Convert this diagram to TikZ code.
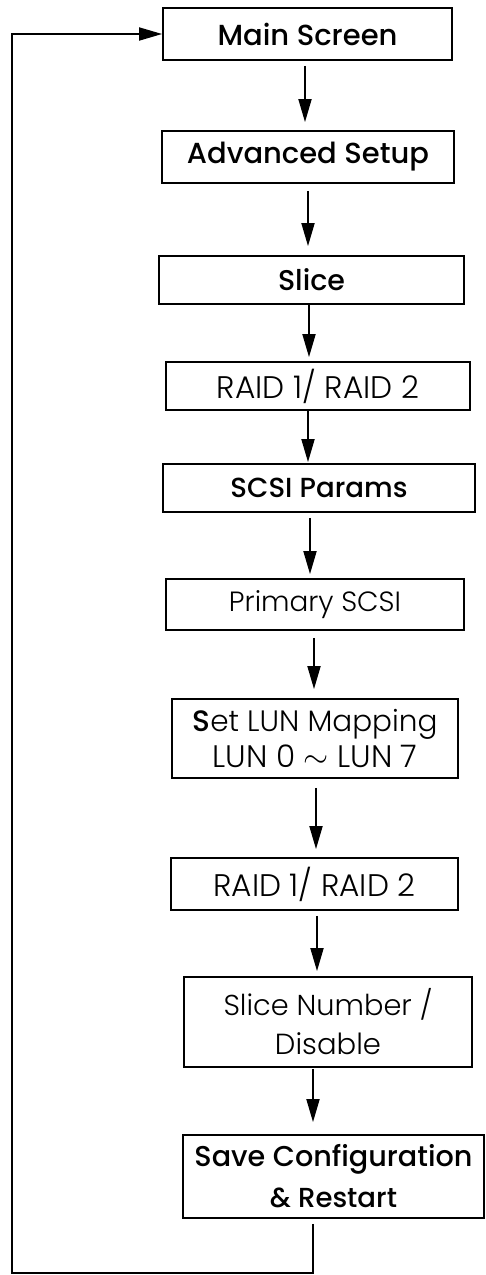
\documentclass[tikz,border=0pt]{standalone}
\usepackage{fontspec}
\setmainfont{Poppins}
\newfontfamily\lt{Poppins Light}
\newfontfamily\md{Poppins Medium}
\usetikzlibrary{arrows.meta}
\newcommand\tw[2]{\resizebox{#1pt}{!}{#2}}
\tikzset{
  box/.style={draw, line width=1.8pt, inner sep=0pt, align=center},
  arr/.style={line width=1.8pt, -{Triangle[length=23pt,width=13pt]}},
}
\newcommand\flow[5]{\draw[arr, shorten <=#4pt, shorten >=#5pt] ([xshift=#3pt]#1.south) -- ([xshift=#3pt]#1.south |- #2.north);}
\begin{document}
\begin{tikzpicture}[x=1pt, y=-1pt]
\useasboundingbox (0,0) rectangle (485,1275);
\node[box, minimum width=289pt, minimum height=52pt, font=\fontsize{20}{30}\selectfont] (n1) at (307.5,34) {\tw{180}{\md Main Screen}};
\node[box, minimum width=292pt, minimum height=52pt, font=\fontsize{20}{30}\selectfont] (n2) at (308,157) {\tw{242}{\md Advanced Setup}};
\node[box, minimum width=305pt, minimum height=48pt, font=\fontsize{20}{30}\selectfont] (n3) at (311.5,280) {\tw{67}{\md Slice}};
\node[box, minimum width=304pt, minimum height=48pt, font=\fontsize{20}{30}\selectfont] (n4) at (318,386) {\tw{202}{\lt RAID 1/ RAID 2}};
\node[box, minimum width=312pt, minimum height=48pt, font=\fontsize{20}{30}\selectfont] (n5) at (319,488) {\tw{177}{\md SCSI Params}};
\node[box, minimum width=298pt, minimum height=51pt, font=\fontsize{20}{30}\selectfont] (n6) at (315,604.5) {\tw{172}{\lt Primary SCSI}};
\node[box, minimum width=286pt, minimum height=79pt, font=\fontsize{20}{36}\selectfont] (n7) at (315,738.5) {\tw{245}{{\md S}\lt et LUN Mapping}\\\tw{205}{\lt LUN 0 $\sim$ LUN 7}};
\node[box, minimum width=287pt, minimum height=52pt, font=\fontsize{20}{30}\selectfont] (n8) at (314.5,884) {\tw{202}{\lt RAID 1/ RAID 2}};
\node[box, minimum width=288pt, minimum height=90pt, font=\fontsize{20}{39}\selectfont] (n9) at (328,1022) {\tw{209}{\lt Slice Number /}\\\tw{106}{\lt Disable}};
\node[box, minimum width=301pt, minimum height=83pt, font=\fontsize{20}{41}\selectfont] (n10) at (333.5,1176.5) {\tw{278}{\md Save Configuration}\\\tw{127}{\md \& Restart}};
\coordinate (bl) at (12,1273);
\flow{n1}{n2}{-2.5}{5}{8}
\flow{n2}{n3}{0}{7}{9}
\flow{n3}{n4}{-2.5}{0}{4}
\flow{n4}{n5}{-10}{0}{1}
\flow{n5}{n6}{-9}{5}{4}
\flow{n6}{n7}{-1}{7}{9}
\flow{n7}{n8}{1}{9}{8}
\flow{n8}{n9}{2.5}{5}{5}
\flow{n9}{n10}{-15}{1}{12}
\draw[arr, shorten <=5pt] ([xshift=-20.5pt]n10.south) |- (bl) |- (n1.west);
\end{tikzpicture}
\end{document}
